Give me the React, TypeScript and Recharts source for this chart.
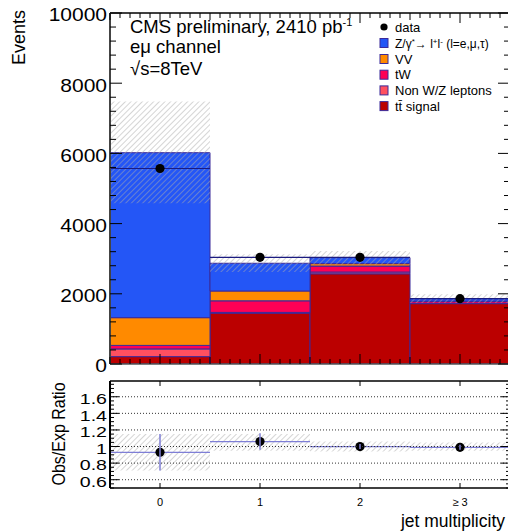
import { ComposedChart, Bar, Line, XAxis, YAxis, ErrorBar, ReferenceLine } from "recharts";

const FONT = "'Liberation Sans', Arial, Helvetica, sans-serif";

const BINS = ["0", "1", "2", "≥ 3"];

// stacked expectation per jet bin (events)
const TTBAR = [210, 1450, 2570, 1720];
const NON_WZ = [220, 20, 50, 10];
const TW = [100, 330, 170, 50];
const VV = [790, 280, 70, 10];
const DY = [4700, 790, 170, 70];

const DATA = [5570, 3040, 3040, 1860];
const UNC_LO = [4580, 2620, 2830, 1740];
const UNC_HI = [7480, 3130, 3220, 1990];

const RATIO = [0.93, 1.06, 1.0, 0.99];
const RATIO_ERR = [0.22, 0.1, 0.03, 0.03];
const RATIO_UNC_LO = [0.71, 0.95, 0.94, 0.95];
const RATIO_UNC_HI = [1.15, 1.15, 1.06, 1.05];

const EVENT_TICKS = Array.from({ length: 26 }, (_, i) => i * 400);
const RATIO_TICKS = Array.from({ length: 26 }, (_, i) => +(0.5 + i * 0.05).toFixed(2));
const RATIO_LABELS = [0.6, 0.8, 1.0, 1.2, 1.4, 1.6];
const X_TICKS = Array.from({ length: 41 }, (_, i) => +(-0.5 + i * 0.1).toFixed(1));
const X_CENTERS = [0, 1, 2, 3];

const C_TT = "#bb0000";
const C_NONWZ = "#ff5060";
const C_TW = "#ff0055";
const C_VV = "#ff8a00";
const C_DY = "#2456f6";
const EDGE = "#3b2a9a";
const HATCH = "#ababab";

const mainRows = BINS.map((bin, i) => ({
  bin,
  pos: i,
  tt: TTBAR[i],
  nonwz: NON_WZ[i],
  tw: TW[i],
  vv: VV[i],
  dy: DY[i],
  data: DATA[i],
  unc: [UNC_LO[i], UNC_HI[i]],
}));

const ratioRows = BINS.map((bin, i) => ({
  bin,
  pos: i,
  ratio: RATIO[i],
  err: RATIO_ERR[i],
  unc: [RATIO_UNC_LO[i], RATIO_UNC_HI[i]],
}));

const isOn = (v: number, step: number) => Math.abs(v / step - Math.round(v / step)) < 1e-6;

const yTick =
  (
    side: "left" | "right",
    isMajor: (v: number) => boolean,
    majorLen: number,
    minorLen: number,
    label?: { fs: number; sx: number; fmt: (v: number) => string }
  ) =>
  (props: any) => {
    const { x, y, payload } = props;
    const v = payload.value as number;
    const major = isMajor(v);
    const dir = side === "left" ? 1 : -1;
    const len = major ? majorLen : minorLen;
    return (
      <g>
        <line x1={x} x2={x + dir * len} y1={y} y2={y} stroke="#000" strokeWidth={1} />
        {label && major && (
          <text
            transform={`translate(${x - 3},${y + 2}) scale(${label.sx},1)`}
            textAnchor="end"
            dy="0.36em"
            fontSize={label.fs}
            fontFamily={FONT}
            fill="#000"
          >
            {label.fmt(v)}
          </text>
        )}
      </g>
    );
  };

const xTick =
  (side: "top" | "bottom", lenOf: (v: number) => number, withLabel = false) =>
  (props: any) => {
    const { x, y, payload } = props;
    const v = payload.value as number;
    const dir = side === "bottom" ? -1 : 1;
    return (
      <g>
        <line x1={x} x2={x} y1={y} y2={y + dir * lenOf(v)} stroke="#000" strokeWidth={1} />
        {withLabel && (
          <text x={x} y={y + 18} textAnchor="middle" fontSize={11} fontFamily={FONT} fill="#000">
            {BINS[Math.round(v)]}
          </text>
        )}
      </g>
    );
  };

const mainXLen = (v: number) => (isOn(v, 1) ? 10 : isOn(v, 0.5) ? 7 : 5);
const eventMajor = (v: number) => isOn(v, 2000);
const ratioMajor = (v: number) => RATIO_LABELS.some((r) => Math.abs(r - v) < 1e-6);

const DataMark = (color: string) => (props: any) => {
  const { x, y, width } = props;
  return (
    <g>
      <line x1={x} x2={x + width} y1={y} y2={y} stroke={color} strokeWidth={1.2} />
      <circle cx={x + width / 2} cy={y} r={4.6} fill="#000" />
    </g>
  );
};

const Hatch = ({ id }: { id: string }) => (
  <defs>
    <pattern id={id} patternUnits="userSpaceOnUse" width={4} height={4} patternTransform="rotate(45)">
      <line x1={0} y1={0} x2={0} y2={4} stroke={HATCH} strokeWidth={1} />
    </pattern>
  </defs>
);

const LEGEND = [
  { name: "VV", color: C_VV },
  { name: "tW", color: C_TW },
  { name: "Non W/Z leptons", color: C_NONWZ },
  { name: "tt\u0304 signal", color: C_TT },
];

// shared props for the numeric axes that only draw the frame and its ticks
// (an axis of zero height is not drawn at all, hence height 1)
const frameX = {
  type: "number" as const,
  dataKey: "pos",
  domain: [-0.5, 3.5],
  allowDataOverflow: true,
  interval: 0 as const,
  height: 1,
  tickSize: 0,
  tickMargin: 0,
  tickLine: false,
};

// invisible series so that the frame axes are attached to something
const anchor = (xAxisId: string, dataKey: string) => (
  <Line
    xAxisId={xAxisId}
    yAxisId="z_hidden"
    dataKey={dataKey}
    stroke="none"
    dot={false}
    activeDot={false}
    legendType="none"
    isAnimationActive={false}
  />
);

export default function App() {
  return (
    <div
      style={{
        position: "absolute",
        left: 0,
        top: 0,
        width: 508,
        height: 532,
        overflow: "hidden",
        background: "#fff",
        fontFamily: FONT,
      }}
    >
      <div style={{ position: "absolute", left: 0, top: 0 }}>
        <ComposedChart
          width={511}
          height={376}
          data={mainRows}
          margin={{ top: 12, right: 0, bottom: 11, left: 0 }}
          barCategoryGap={0}
          barGap={0}
        >
          <Hatch id="hatchMain" />
          <XAxis {...frameX} xAxisId="a_bottom" ticks={X_TICKS} tick={xTick("bottom", mainXLen)} axisLine={{ stroke: "#555", strokeWidth: 1.5 }} />
          <XAxis {...frameX} xAxisId="a_top" orientation="top" ticks={X_TICKS} tick={xTick("top", mainXLen)} axisLine={{ stroke: "#000", strokeWidth: 1.5 }} />
          <XAxis xAxisId="z_stack" dataKey="bin" hide height={0} />
          <XAxis xAxisId="z_unc" dataKey="bin" hide height={0} />
          <XAxis xAxisId="z_pts" dataKey="bin" hide height={0} />
          <YAxis
            yAxisId="a_left"
            domain={[0, 10000]}
            allowDataOverflow
            ticks={EVENT_TICKS}
            interval={0}
            width={110}
            tickSize={0}
            tickMargin={0}
            tickLine={false}
            tick={yTick("left", eventMajor, 12, 6, { fs: 17.5, sx: 1.2, fmt: (v) => String(v) })}
            axisLine={{ stroke: "#444", strokeWidth: 2 }}
          />
          <YAxis
            yAxisId="a_right"
            orientation="right"
            domain={[0, 10000]}
            allowDataOverflow
            ticks={EVENT_TICKS}
            interval={0}
            width={1}
            tickSize={0}
            tickMargin={0}
            tickLine={false}
            tick={yTick("right", eventMajor, 12, 6)}
            axisLine={{ stroke: "#000", strokeWidth: 1.5 }}
          />
          <YAxis yAxisId="z_hidden" hide width={0} domain={[0, 10000]} allowDataOverflow />
          <Bar xAxisId="z_stack" yAxisId="a_left" stackId="mc" dataKey="tt" fill={C_TT} stroke={EDGE} strokeWidth={1} isAnimationActive={false} />
          <Bar xAxisId="z_stack" yAxisId="a_left" stackId="mc" dataKey="nonwz" fill={C_NONWZ} stroke={EDGE} strokeWidth={1} isAnimationActive={false} />
          <Bar xAxisId="z_stack" yAxisId="a_left" stackId="mc" dataKey="tw" fill={C_TW} stroke={EDGE} strokeWidth={1} isAnimationActive={false} />
          <Bar xAxisId="z_stack" yAxisId="a_left" stackId="mc" dataKey="vv" fill={C_VV} stroke={EDGE} strokeWidth={1} isAnimationActive={false} />
          <Bar xAxisId="z_stack" yAxisId="a_left" stackId="mc" dataKey="dy" fill={C_DY} stroke={EDGE} strokeWidth={1} isAnimationActive={false} />
          <Bar xAxisId="z_unc" yAxisId="a_right" dataKey="unc" fill="url(#hatchMain)" isAnimationActive={false} />
          <Bar xAxisId="z_pts" yAxisId="z_hidden" dataKey="data" shape={DataMark("#1b1b80")} isAnimationActive={false} />
          {anchor("a_bottom", "data")}
          {anchor("a_top", "data")}
        </ComposedChart>
      </div>

      <div style={{ position: "absolute", left: 0, top: 370 }}>
        <ComposedChart
          width={511}
          height={162}
          data={ratioRows}
          margin={{ top: 10, right: 0, bottom: 43, left: 0 }}
          barCategoryGap={0}
          barGap={0}
        >
          <Hatch id="hatchRatio" />
          <XAxis {...frameX} xAxisId="a_bottom" ticks={X_CENTERS} tick={xTick("bottom", () => 5, true)} axisLine={{ stroke: "#000", strokeWidth: 1.5 }} />
          <XAxis {...frameX} xAxisId="a_top" orientation="top" ticks={X_CENTERS} tick={xTick("top", () => 5)} axisLine={{ stroke: "#000", strokeWidth: 1.5 }} />
          <XAxis xAxisId="z_unc" dataKey="bin" hide height={0} />
          <XAxis xAxisId="z_pts" dataKey="bin" hide height={0} />
          <YAxis
            yAxisId="a_left"
            domain={[0.5, 1.79]}
            allowDataOverflow
            ticks={RATIO_TICKS}
            interval={0}
            width={110}
            tickSize={0}
            tickMargin={0}
            tickLine={false}
            tick={yTick("left", ratioMajor, 9, 4, { fs: 14.5, sx: 1.35, fmt: (v) => (isOn(v, 1) ? String(Math.round(v)) : v.toFixed(1)) })}
            axisLine={{ stroke: "#000", strokeWidth: 2 }}
          />
          <YAxis
            yAxisId="a_right"
            orientation="right"
            domain={[0.5, 1.79]}
            allowDataOverflow
            ticks={RATIO_TICKS}
            interval={0}
            width={1}
            tickSize={0}
            tickMargin={0}
            tickLine={false}
            tick={yTick("right", ratioMajor, 9, 4)}
            axisLine={{ stroke: "#000", strokeWidth: 1.5 }}
          />
          <YAxis yAxisId="z_hidden" hide width={0} domain={[0.5, 1.79]} allowDataOverflow />
          {RATIO_LABELS.map((v) => (
            <ReferenceLine key={v} xAxisId="z_unc" yAxisId="a_left" y={v} stroke="#333" strokeDasharray="1 2" />
          ))}
          <Bar xAxisId="z_unc" yAxisId="a_right" dataKey="unc" fill="url(#hatchRatio)" isAnimationActive={false} />
          <Bar xAxisId="z_pts" yAxisId="z_hidden" dataKey="ratio" shape={DataMark("#7e7ed6")} isAnimationActive={false}>
            <ErrorBar dataKey="err" width={0} stroke="#7e7ed6" strokeWidth={1.5} direction="y" />
          </Bar>
          {anchor("a_bottom", "ratio")}
          {anchor("a_top", "ratio")}
        </ComposedChart>
      </div>

      <svg
        width={508}
        height={532}
        style={{ position: "absolute", left: 0, top: 0, pointerEvents: "none" }}
        fontFamily={FONT}
      >
        <text transform="translate(25,10) rotate(-90)" textAnchor="end" fontSize={18} fill="#000">
          Events
        </text>
        <text transform="translate(65,434) scale(1.1,1) rotate(-90)" textAnchor="middle" fontSize={16} fill="#000">
          Obs/Exp Ratio
        </text>
        <text x={505} y={527} textAnchor="end" fontSize={17.5} fill="#000">
          jet multiplicity
        </text>

        <text x={130} y={33} fontSize={18.5} fill="#000">
          CMS preliminary, 2410 pb
          <tspan dy={-7} fontSize={11}>
            -1
          </tspan>
        </text>
        <text x={130} y={53} fontSize={18.5} fill="#000">
          eμ channel
        </text>
        <text x={130} y={75} fontSize={18.5} fill="#000">
          √s=8TeV
        </text>

        <circle cx={384} cy={27} r={3.6} fill="#000" />
        <text x={395} y={31.5} fontSize={13} fill="#000">
          data
        </text>
        <rect x={380} y={38.5} width={8} height={9} fill={C_DY} stroke={EDGE} strokeWidth={1} />
        <text x={395} y={47.5} fontSize={12} fill="#000">
          Z/γ
          <tspan dy={-4} fontSize={8}>*</tspan>
          <tspan dy={4}>→ l</tspan>
          <tspan dy={-4} fontSize={8}>+</tspan>
          <tspan dy={4}>l</tspan>
          <tspan dy={-4} fontSize={8}>-</tspan>
          <tspan dy={4}> (l=e,μ,τ)</tspan>
        </text>
        {LEGEND.map((item, i) => {
          const cy = 59 + i * 15.7;
          return (
            <g key={item.name}>
              <rect x={380} y={cy - 4.5} width={8} height={9} fill={item.color} stroke={EDGE} strokeWidth={1} />
              <text x={395} y={cy + 4.5} fontSize={13} fill="#000">
                {item.name}
              </text>
            </g>
          );
        })}
      </svg>
    </div>
  );
}
